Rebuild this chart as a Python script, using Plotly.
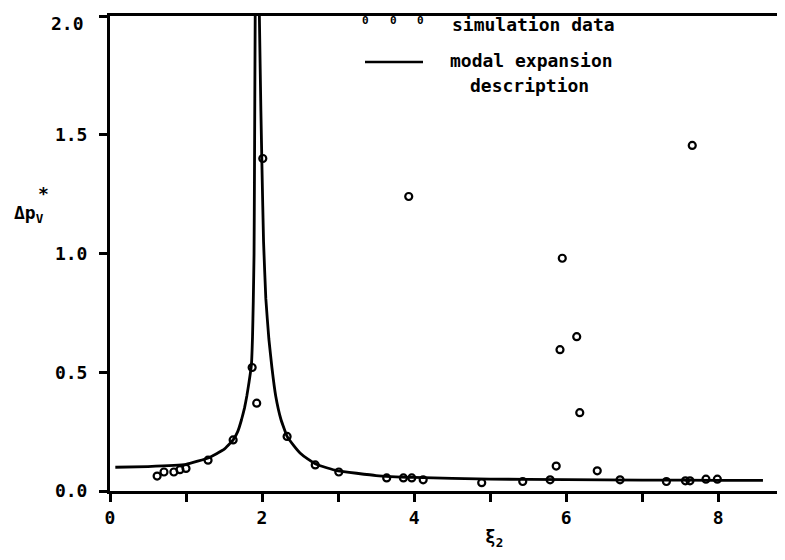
import plotly.graph_objects as go

# simulation data
sim_x = [0.62, 0.71, 0.84, 0.92, 1.00, 1.29, 1.62, 1.87, 1.93, 2.01, 2.33, 2.70,
         3.01, 3.64, 3.86, 3.97, 4.12, 4.89, 5.43, 5.79, 5.87, 6.41, 6.71, 7.32,
         7.57, 7.63, 7.84, 7.99, 3.93, 5.95, 6.14, 5.92, 6.18, 7.66]
sim_y = [0.063, 0.080, 0.080, 0.090, 0.095, 0.130, 0.215, 0.520, 0.370, 1.400, 0.230, 0.110,
         0.080, 0.055, 0.055, 0.055, 0.047, 0.035, 0.040, 0.047, 0.105, 0.085, 0.047, 0.040,
         0.043, 0.043, 0.050, 0.050, 1.240, 0.980, 0.650, 0.595, 0.330, 1.455]

# modal expansion description curve
curve_x = [0.07, 0.5, 1.0, 1.3, 1.5, 1.62, 1.68, 1.73, 1.77, 1.80, 1.83, 1.86, 1.875,
           1.885, 1.895, 1.90, 1.91, 1.935,
           1.965, 1.985, 2.00, 2.02, 2.05, 2.09, 2.13, 2.18, 2.25, 2.33, 2.42, 2.50,
           2.60, 2.70, 2.85, 3.00, 3.50, 4.00, 5.00, 6.00, 7.00, 8.00, 8.59]
curve_y = [0.100, 0.103, 0.112, 0.140, 0.175, 0.215, 0.250, 0.300, 0.350, 0.400, 0.460, 0.530, 0.650,
           0.800, 1.000, 1.300, 2.000, 3.000,
           2.000, 1.600, 1.350, 1.050, 0.810, 0.640, 0.520, 0.400, 0.300, 0.230, 0.190, 0.160,
           0.135, 0.115, 0.098, 0.085, 0.065, 0.057, 0.050, 0.048, 0.046, 0.045, 0.045]

x_labels = [0, 2, 4, 6, 8]
y_ticks = [0.0, 0.5, 1.0, 1.5]
y_ticktext = ["0.0", "0.5", "1.0", "1.5"]
y_top_label = "2.0"

FONT = "DejaVu Sans Mono"
OFF = 8  # page body margin in the browser
W, H = 785 - OFF, 560 - OFF
ML, MR, MT, MB = 110 - OFF, 0, 16 - OFF, 69
PW, PH = W - ML - MR, H - MT - MB


def px(x):
    return (x - OFF - ML) / PW


def py(y):
    return (H + OFF - MB - y) / PH


fig = go.Figure()
fig.add_trace(go.Scatter(x=curve_x, y=curve_y, mode="lines",
                         line=dict(color="black", width=2.8, shape="spline", smoothing=0.3),
                         showlegend=False, hoverinfo="skip"))
fig.add_trace(go.Scatter(x=sim_x, y=sim_y, mode="markers",
                         marker=dict(symbol="circle-open", size=7, color="black",
                                     line=dict(width=2.2, color="black")),
                         showlegend=False, cliponaxis=False))

ann_font = dict(family=FONT, size=18, color="black", weight="bold")
glyph_font = dict(family=FONT, size=11, color="black", weight="bold")
annotations = [
    dict(text=y_top_label, x=px(86), y=py(23), font=ann_font, xanchor="right", yanchor="middle"),
    dict(text="0", x=px(365), y=py(20), font=glyph_font, xanchor="center", yanchor="middle"),
    dict(text="0", x=px(393), y=py(20), font=glyph_font, xanchor="center", yanchor="middle"),
    dict(text="0", x=px(420), y=py(20), font=glyph_font, xanchor="center", yanchor="middle"),
    dict(text="simulation data", x=px(450), y=py(25), font=ann_font, xanchor="left", yanchor="middle"),
    dict(text="modal expansion", x=px(448), y=py(61), font=ann_font, xanchor="left", yanchor="middle"),
    dict(text="description", x=px(468), y=py(85), font=ann_font, xanchor="left", yanchor="middle"),
    dict(text="Δp<sub>V</sub>", x=px(12), y=py(214), font=ann_font, xanchor="left", yanchor="middle"),
    dict(text="*", x=px(43), y=py(193), font=ann_font, xanchor="center", yanchor="middle"),
    dict(text="ξ<sub>2</sub>", x=px(494), y=py(538), font=ann_font, xanchor="center", yanchor="middle"),
]
for a in annotations:
    a.update(xref="paper", yref="paper", showarrow=False)

fig.update_layout(
    width=W, height=H,
    margin=dict(l=ML, r=MR, t=MT, b=MB, autoexpand=False),
    paper_bgcolor="white", plot_bgcolor="white",
    font=dict(family=FONT, size=18, color="black", weight="bold"),
    annotations=annotations,
    shapes=[dict(type="line", xref="paper", yref="paper", x0=px(365), x1=px(423),
                 y0=py(62), y1=py(62), line=dict(color="black", width=2.5))],
    xaxis=dict(range=[0, 8.88], tickvals=x_labels,
               showgrid=False, zeroline=False, showline=True, linewidth=3,
               linecolor="black", mirror=True, ticks="outside", ticklen=8,
               tickwidth=2.5, tickcolor="black", ticklabeloverflow="allow",
               minor=dict(dtick=1, ticks="outside", ticklen=8, tickwidth=2.5,
                          tickcolor="black", showgrid=False)),
    yaxis=dict(range=[0, 2.0], tickvals=y_ticks, ticktext=y_ticktext,
               showgrid=False, zeroline=False, showline=True, linewidth=3,
               linecolor="black", ticks="outside", ticklen=8, tickwidth=2.5,
               tickcolor="black", ticklabelstandoff=8, ticklabeloverflow="allow",
               minor=dict(dtick=0.5, ticks="outside", ticklen=8, tickwidth=2.5,
                          tickcolor="black", showgrid=False)),
)

fig.write_html("out.html")
